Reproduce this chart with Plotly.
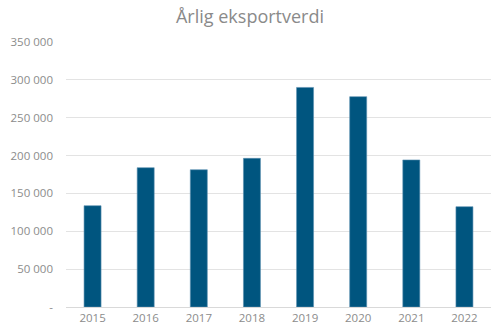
import plotly.graph_objects as go

years = ["2015", "2016", "2017", "2018", "2019", "2020", "2021", "2022"]
values = [133800, 184000, 181300, 196300, 290000, 277800, 194200, 132500]
tick_vals = [0, 50000, 100000, 150000, 200000, 250000, 300000, 350000]
tick_text = ["-", "50 000", "100 000", "150 000", "200 000", "250 000", "300 000", "350 000"]

fig = go.Figure(go.Bar(
    x=years, y=values,
    marker=dict(color="#00557f", line=dict(color="#5a8fb0", width=0.6)),
))

fig.update_layout(
    width=500, height=335,
    margin=dict(l=66, r=9, t=42, b=28),
    paper_bgcolor="white", plot_bgcolor="white",
    bargap=0.68,
    showlegend=False,
    font=dict(family="Open Sans, sans-serif", color="#8c8c8c", size=11.5),
    title=dict(text="Årlig eksportverdi", x=0.5, xanchor="center", y=0.95, yanchor="middle",
               font=dict(size=18, color="#8a8a8a", family="Open Sans, sans-serif")),
    xaxis=dict(showgrid=False, showline=True, linecolor="#d9d9d9", linewidth=1,
               ticks="", tickfont=dict(size=11.5, color="#8c8c8c")),
    yaxis=dict(range=[0, 350000], tickvals=tick_vals, ticktext=tick_text,
               showgrid=True, gridcolor="#e3e3e3", gridwidth=1, zeroline=False,
               showline=False, ticks="", ticklabelstandoff=12,
               tickfont=dict(size=11.5, color="#8c8c8c")),
)

fig.write_html("out.html")
